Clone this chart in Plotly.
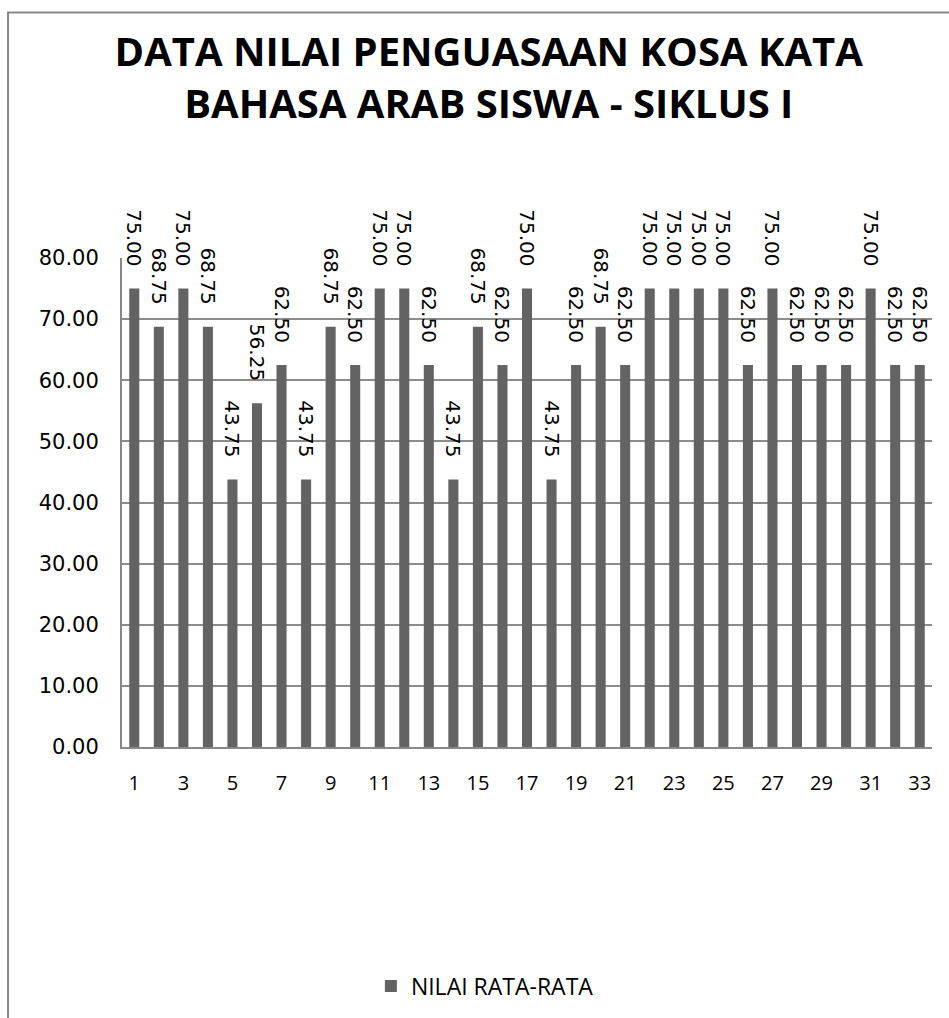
import plotly.graph_objects as go

# data
siswa = list(range(1, 34))
nilai = [75.00, 68.75, 75.00, 68.75, 43.75, 56.25, 62.50, 43.75, 68.75, 62.50,
         75.00, 75.00, 62.50, 43.75, 68.75, 62.50, 75.00, 43.75, 62.50, 68.75,
         62.50, 75.00, 75.00, 75.00, 75.00, 62.50, 75.00, 62.50, 62.50, 62.50,
         75.00, 62.50, 62.50]
y_ticks = [0, 10, 20, 30, 40, 50, 60, 70, 80]
judul = "DATA NILAI PENGUASAAN KOSA KATA<br>BAHASA ARAB SISWA - SIKLUS I"

# label di atas batang (spasi tak terputus = jarak dari batang)
label = ["%.2f" % v + "\u00a0\u00a0\u00a0" for v in nilai]

bar = go.Bar(
    x=siswa,
    y=nilai,
    name="NILAI RATA-RATA",
    marker=dict(color="#636363", line=dict(width=0)),
    text=label,
    textposition="outside",
    textangle=90,
    cliponaxis=False,
    textfont=dict(family="DejaVu Sans", size=20, color="#000000"),
)

fig = go.Figure(data=[bar])
fig.update_layout(
    width=949, height=1018,
    paper_bgcolor="white", plot_bgcolor="white",
    margin=dict(l=122, r=17, t=258, b=270),
    bargap=0.59,
    showlegend=True,
    title=dict(text=judul, x=0.515, xanchor="center", y=0.935, yanchor="top",
               font=dict(family="Open Sans", size=40, color="#000000", weight="bold")),
    legend=dict(orientation="h", x=0.448, xanchor="center", y=-0.486, yanchor="middle",
                font=dict(family="Open Sans", size=23, color="#000000")),
    uniformtext=dict(minsize=20, mode="show"),
)
fig.update_xaxes(
    range=[0.5, 33.5], tickmode="linear", tick0=1, dtick=2,
    showgrid=False, showline=True, linecolor="#888888", linewidth=2,
    ticks="", tickfont=dict(family="Open Sans", size=20, color="#000000"),
    ticklabelstandoff=17,
)
fig.update_yaxes(
    range=[0, 80], tickvals=y_ticks, ticktext=["%.2f" % v for v in y_ticks],
    showgrid=True, gridcolor="#8c8c8c", gridwidth=2,
    showline=True, linecolor="#888888", linewidth=2, mirror=False,
    zeroline=False, ticks="",
    tickfont=dict(family="DejaVu Sans", size=21, color="#000000"),
    ticklabelstandoff=17,
)
# outer chart frame
fig.add_shape(type="rect", xref="paper", yref="paper",
              x0=-0.1407, x1=1.2, y0=-1.0, y1=1.502,
              line=dict(color="#888888", width=2), layer="below")

fig.write_html("out.html", config={"displayModeBar": False},
               post_script="document.body.style.margin='0';")
